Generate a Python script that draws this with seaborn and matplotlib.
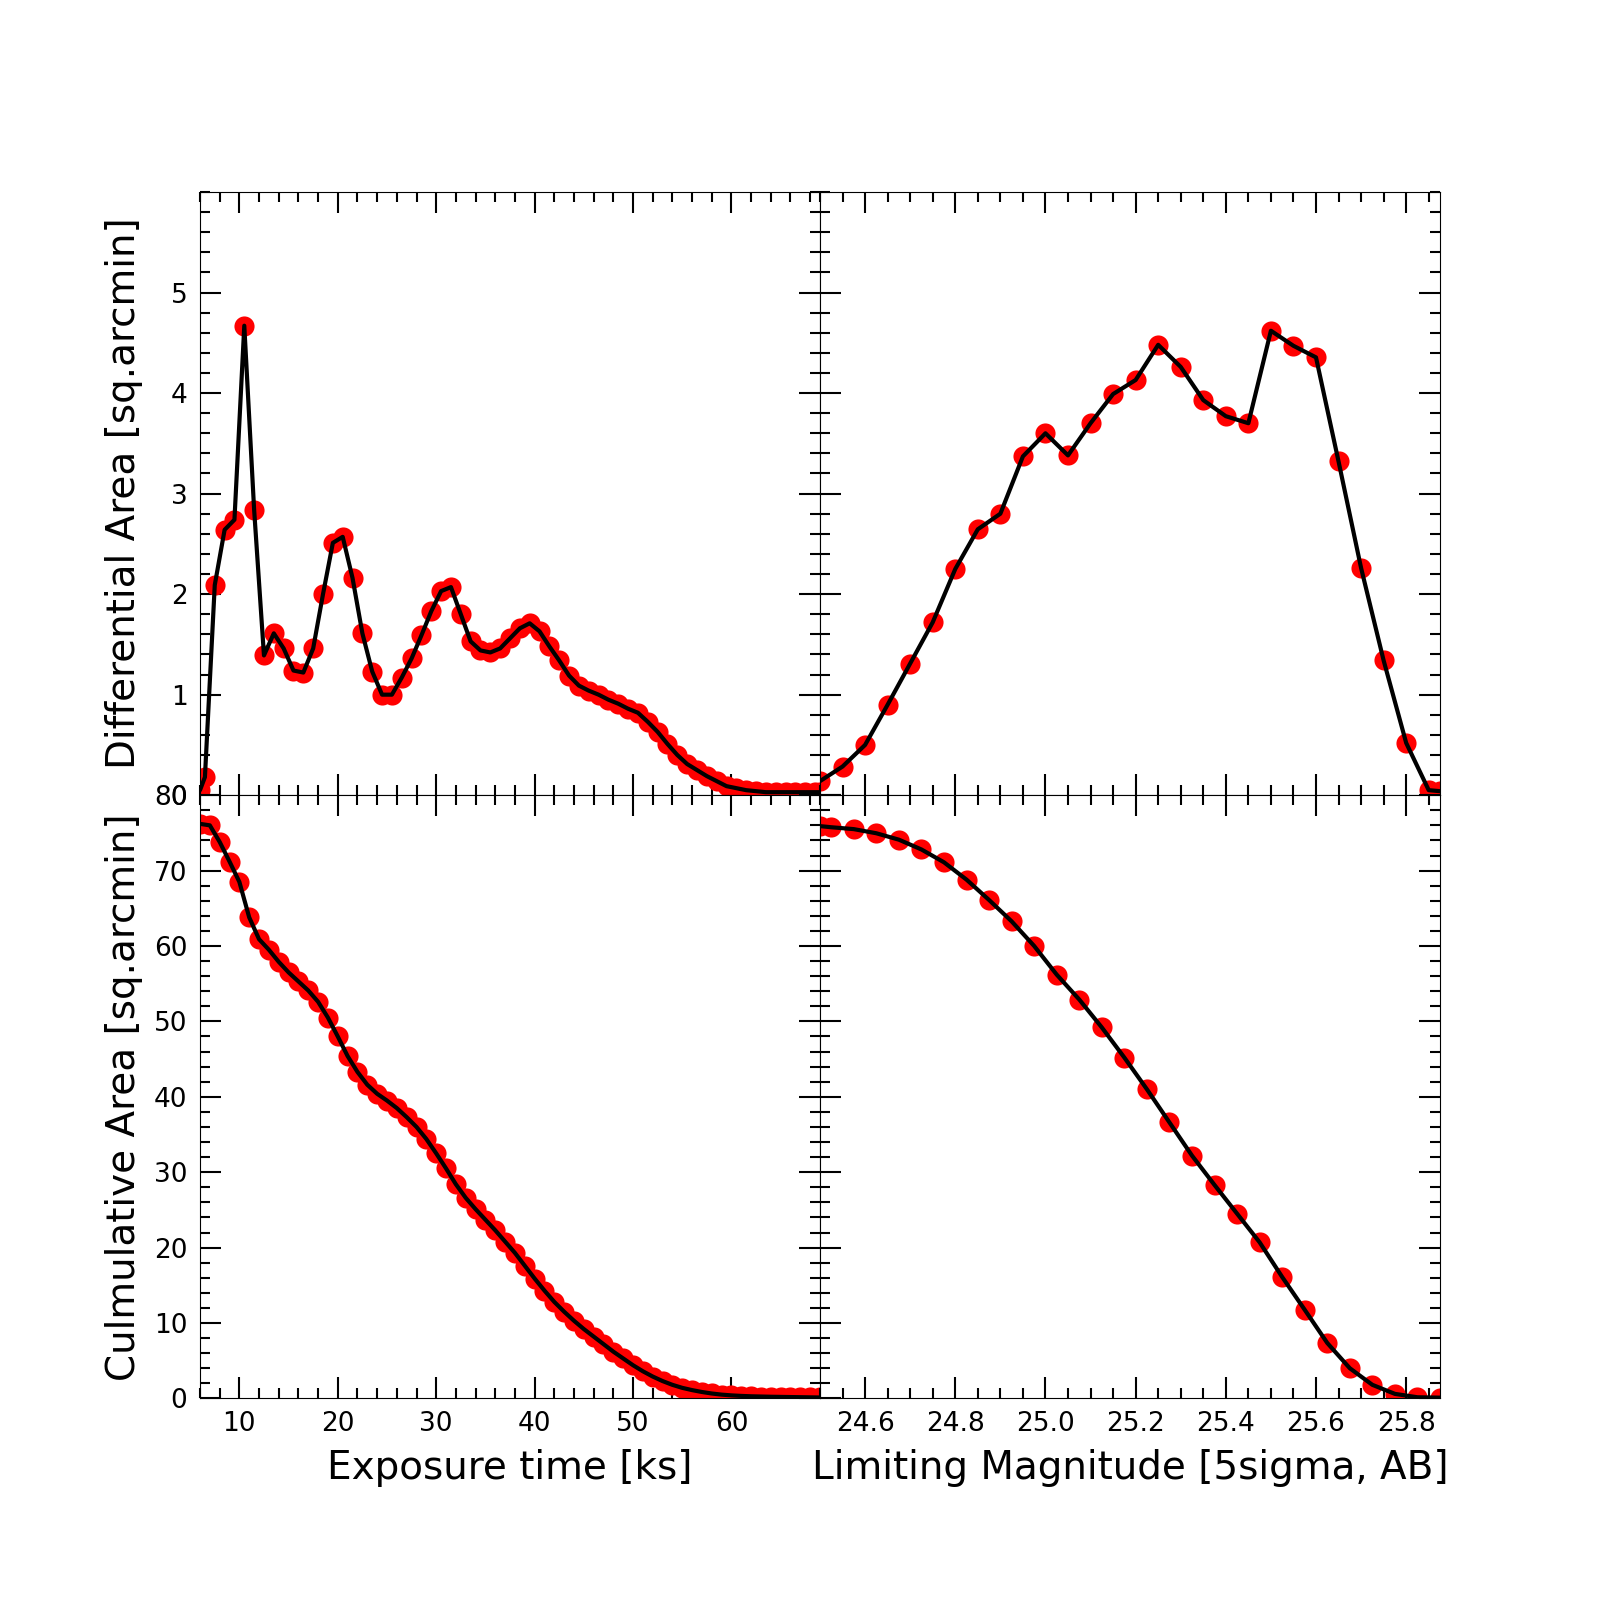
import matplotlib
matplotlib.use("Agg")
import matplotlib.pyplot as plt
from matplotlib.ticker import MultipleLocator
import seaborn as sns

# differential area per exposure-time bin (ks)
exp_time = [6.0, 6.5, 7.5, 8.5, 9.5, 10.5, 11.5, 12.5, 13.5, 14.5, 15.5, 16.5, 17.5,
            18.5, 19.5, 20.5, 21.5, 22.5, 23.5, 24.5, 25.5, 26.5, 27.5, 28.5, 29.5,
            30.5, 31.5, 32.5, 33.5, 34.5, 35.5, 36.5, 37.5, 38.5, 39.5, 40.5, 41.5,
            42.5, 43.5, 44.5, 45.5, 46.5, 47.5, 48.5, 49.5, 50.5, 51.5, 52.5, 53.5,
            54.5, 55.5, 56.5, 57.5, 58.5, 59.5, 60.5, 61.5, 62.5, 63.5, 64.5, 65.5,
            66.5, 67.5, 68.5, 69.0]
diff_exp = [0.05, 0.18, 2.09, 2.64, 2.74, 4.67, 2.84, 1.39, 1.61, 1.46, 1.24, 1.22, 1.46,
            2.00, 2.51, 2.57, 2.16, 1.61, 1.23, 1.00, 1.00, 1.17, 1.36, 1.59, 1.83,
            2.03, 2.07, 1.80, 1.53, 1.44, 1.42, 1.46, 1.56, 1.66, 1.71, 1.63, 1.48,
            1.34, 1.19, 1.09, 1.04, 1.00, 0.95, 0.91, 0.86, 0.82, 0.73, 0.63, 0.51,
            0.40, 0.31, 0.25, 0.19, 0.14, 0.09, 0.07, 0.05, 0.04, 0.03, 0.03, 0.03,
            0.03, 0.03, 0.03, 0.03]

# cumulative area at bin edges (ks)
exp_edges = [6, 7, 8, 9, 10, 11, 12, 13, 14, 15, 16, 17, 18, 19, 20, 21, 22, 23, 24,
             25, 26, 27, 28, 29, 30, 31, 32, 33, 34, 35, 36, 37, 38, 39, 40, 41, 42,
             43, 44, 45, 46, 47, 48, 49, 50, 51, 52, 53, 54, 55, 56, 57, 58, 59, 60,
             61, 62, 63, 64, 65, 66, 67, 68, 69]
cum_exp = [76.2, 76.0, 73.8, 71.2, 68.5, 63.8, 60.9, 59.5, 57.9, 56.5, 55.3, 54.1, 52.6,
           50.5, 48.0, 45.4, 43.3, 41.6, 40.4, 39.5, 38.5, 37.3, 36.0, 34.4, 32.5,
           30.5, 28.4, 26.6, 25.1, 23.7, 22.3, 20.8, 19.3, 17.6, 15.9, 14.3, 12.8,
           11.5, 10.3, 9.2, 8.2, 7.2, 6.2, 5.3, 4.4, 3.6, 2.9, 2.3, 1.8, 1.4, 1.1,
           0.85, 0.65, 0.5, 0.4, 0.33, 0.28, 0.25, 0.22, 0.2, 0.18, 0.16, 0.14, 0.12]

# differential area per limiting-magnitude bin
mag = [24.50, 24.55, 24.60, 24.65, 24.70, 24.75, 24.80, 24.85, 24.90, 24.95, 25.00,
       25.05, 25.10, 25.15, 25.20, 25.25, 25.30, 25.35, 25.40, 25.45, 25.50, 25.55,
       25.60, 25.65, 25.70, 25.75, 25.80, 25.85, 25.875]
diff_mag = [0.14, 0.285, 0.50, 0.90, 1.31, 1.72, 2.25, 2.645, 2.80, 3.37, 3.60, 3.38,
            3.70, 3.99, 4.13, 4.48, 4.26, 3.93, 3.77, 3.70, 4.62, 4.47, 4.355, 3.32,
            2.26, 1.34, 0.52, 0.05, 0.04]

# cumulative area vs limiting magnitude
mag_edges = [24.500, 24.525, 24.575, 24.625, 24.675, 24.725, 24.775, 24.825, 24.875,
             24.925, 24.975, 25.025, 25.075, 25.125, 25.175, 25.225, 25.275, 25.325,
             25.375, 25.425, 25.475, 25.525, 25.575, 25.625, 25.675, 25.725, 25.775,
             25.825, 25.875]
cum_mag = [75.9, 75.75, 75.5, 74.95, 74.1, 72.8, 71.1, 68.8, 66.1, 63.27, 60.0, 56.2,
           52.9, 49.2, 45.2, 41.0, 36.6, 32.2, 28.3, 24.5, 20.7, 16.1, 11.75, 7.35,
           4.0, 1.8, 0.6, 0.15, 0.1]

sns.set_style("ticks", rc={"axes.edgecolor": "black", "xtick.color": "black",
                           "ytick.color": "black", "text.color": "black",
                           "axes.labelcolor": "black", "axes.linewidth": 1.5})

fig, axes = plt.subplots(2, 2, figsize=(16, 16), sharex='col', sharey='row')
fig.subplots_adjust(left=0.125, right=0.9, top=0.88, bottom=0.126, wspace=0, hspace=0)


def draw(ax, x, y):
    sns.scatterplot(x=x, y=y, ax=ax, color='red', s=210, linewidth=0, zorder=2)
    sns.lineplot(x=x, y=y, ax=ax, color='black', lw=3, zorder=3,
                 estimator=None, sort=False)


draw(axes[0, 0], exp_time, diff_exp)
draw(axes[1, 0], exp_edges, cum_exp)
draw(axes[0, 1], mag, diff_mag)
draw(axes[1, 1], mag_edges, cum_mag)

axes[0, 0].set_xlim(6, 69)
axes[0, 1].set_xlim(24.5, 25.875)
axes[0, 0].set_ylim(0, 6)
axes[1, 0].set_ylim(0, 80)

axes[0, 0].set_yticks([0, 1, 2, 3, 4, 5])
axes[0, 0].yaxis.set_minor_locator(MultipleLocator(0.2))
axes[1, 0].yaxis.set_major_locator(MultipleLocator(10))
axes[1, 0].yaxis.set_minor_locator(MultipleLocator(2))
axes[1, 0].xaxis.set_major_locator(MultipleLocator(10))
axes[1, 0].xaxis.set_minor_locator(MultipleLocator(2))
axes[1, 1].xaxis.set_major_locator(MultipleLocator(0.2))
axes[1, 1].xaxis.set_minor_locator(MultipleLocator(0.05))

for ax in axes.flat:
    ax.tick_params(which='both', direction='in', top=True, right=True,
                   width=1.5, labelsize=19, pad=9)
    ax.tick_params(which='major', length=15)
    ax.tick_params(which='minor', length=7.5)
    ax.set_xlabel('')
    ax.set_ylabel('')

axes[0, 0].set_ylabel('Differential Area [sq.arcmin]', fontsize=28, labelpad=8)
axes[1, 0].set_ylabel('Culmulative Area [sq.arcmin]', fontsize=28, labelpad=8)
axes[1, 0].set_xlabel('Exposure time [ks]', fontsize=28, labelpad=9)
axes[1, 1].set_xlabel('Limiting Magnitude [5sigma, AB]', fontsize=28, labelpad=9)
fig.align_ylabels(axes[:, 0])

fig.savefig('out.png', dpi=100)
